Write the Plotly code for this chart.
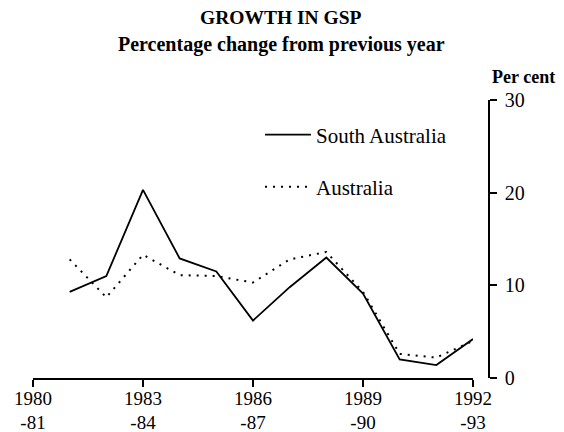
import plotly.graph_objects as go

years = [1981, 1982, 1983, 1984, 1985, 1986, 1987, 1988, 1989, 1990, 1991, 1992]
south_australia = [9.3, 11.0, 20.3, 12.9, 11.5, 6.2, 9.8, 13.0, 9.1, 2.0, 1.4, 4.2]
australia = [12.8, 8.7, 13.3, 11.1, 11.0, 10.3, 12.8, 13.6, 9.3, 2.6, 2.2, 4.0]
tick_years = [1980, 1983, 1986, 1989, 1992]
tick_labels = ["1980<br>-81", "1983<br>-84", "1986<br>-87", "1989<br>-90", "1992<br>-93"]
y_ticks = [0, 10, 20, 30]

FONT = "Liberation Serif"
L, R, T, B = 33, 75, 100, 54
W, H = 564, 432
pw = W - L - R
ph = H - T - B


def px(x):
    return (x - L) / pw


def py(y):
    return (H - y - B) / ph


fig = go.Figure()
fig.add_trace(go.Scatter(x=years, y=south_australia, mode="lines", name="South Australia",
                         line=dict(color="black", width=1.8), legend="legend"))
fig.add_trace(go.Scatter(x=years, y=australia, mode="lines", name="Australia",
                         line=dict(color="black", width=2, dash="2px,6px"), legend="legend2"))

fig.update_layout(
    width=W, height=H,
    margin=dict(l=L, r=R, t=T, b=B, autoexpand=False),
    paper_bgcolor="white", plot_bgcolor="white",
    font=dict(family=FONT, color="black", size=16),
    showlegend=True,
    legend=dict(x=px(260), y=py(135), xanchor="left", yanchor="middle", itemwidth=46,
                font=dict(family=FONT, size=21), bgcolor="rgba(0,0,0,0)"),
    legend2=dict(x=px(260), y=py(187), xanchor="left", yanchor="middle", itemwidth=46,
                 font=dict(family=FONT, size=21), bgcolor="rgba(0,0,0,0)"),
    xaxis=dict(range=[1980, 1992], domain=[0, 440 / pw], automargin=False,
               tickvals=tick_years, ticktext=tick_labels, ticklabelstandoff=-5,
               showline=True, linecolor="black", linewidth=1.5,
               ticks="outside", ticklen=7, tickwidth=1.5, tickcolor="black",
               showgrid=False, zeroline=False,
               tickfont=dict(family=FONT, size=19)),
    yaxis=dict(range=[0, 30], side="right", anchor="free", position=1, automargin=False,
               tickvals=y_ticks, ticklabelstandoff=4,
               showline=True, linecolor="black", linewidth=1.5,
               ticks="outside", ticklen=7, tickwidth=1.5, tickcolor="black",
               showgrid=False, zeroline=False,
               tickfont=dict(family=FONT, size=20)),
    annotations=[
        dict(text="<b>GROWTH IN GSP</b>", x=px(281), y=py(17), xref="paper", yref="paper",
             xanchor="center", yanchor="middle",
             showarrow=False, font=dict(family=FONT, size=19.5)),
        dict(text="<b>Percentage change from previous year</b>", x=px(281), y=py(45),
             xref="paper", yref="paper", xanchor="center", yanchor="middle",
             showarrow=False, font=dict(family=FONT, size=20)),
        dict(text="<b>Per cent</b>", x=px(490), y=py(77), xref="paper", yref="paper",
             showarrow=False, xanchor="left", yanchor="middle",
             font=dict(family=FONT, size=18)),
    ],
)

fig.write_html("out.html", config={"displayModeBar": False},
               post_script="document.body.style.margin='0px';")
